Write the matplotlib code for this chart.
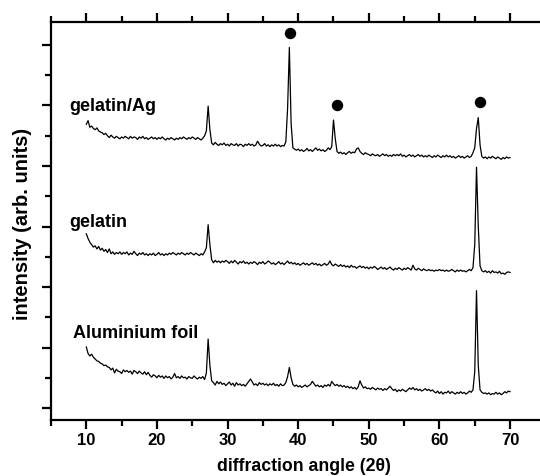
import numpy as np
import matplotlib
matplotlib.use("Agg")
import matplotlib.pyplot as plt
from matplotlib.ticker import FixedLocator

plt.rcParams['font.family'] = ['Liberation Sans', 'DejaVu Sans']
plt.rcParams['font.weight'] = 'bold'

# diffraction angle grid (2theta, degrees)
two_theta = np.arange(10.0, 70.001, 0.25)

aluminium = [
    1.01, 0.90, 0.86, 0.89,  0.84, 0.81, 0.78, 0.77,  0.74, 0.73, 0.70, 0.71,
    0.68, 0.67, 0.63, 0.66,  0.58, 0.64, 0.61, 0.60,  0.57, 0.63, 0.60, 0.62,
    0.59, 0.61, 0.56, 0.62,  0.60, 0.57, 0.61, 0.58,  0.56, 0.60, 0.55, 0.59,
    0.54, 0.51, 0.55, 0.53,  0.50, 0.54, 0.51, 0.53,  0.49, 0.53, 0.50, 0.52,
    0.48, 0.51, 0.57, 0.50,  0.52, 0.49, 0.53, 0.50,  0.51, 0.48, 0.52, 0.50,
    0.49, 0.53, 0.50, 0.48,  0.51, 0.49, 0.52, 0.47,  0.58, 1.14, 0.70, 0.45,
    0.42, 0.38, 0.44, 0.40,  0.43, 0.39, 0.41, 0.37,  0.40, 0.43, 0.38, 0.41,
    0.36, 0.42, 0.38, 0.40,  0.37, 0.39, 0.36, 0.40,  0.44, 0.48, 0.43, 0.38,
    0.40, 0.37, 0.42, 0.39,  0.41, 0.38, 0.40, 0.37,  0.40, 0.38, 0.41, 0.37,
    0.39, 0.36, 0.40, 0.37,  0.38, 0.42, 0.52, 0.67,  0.50, 0.39, 0.36, 0.38,
    0.35, 0.37, 0.34, 0.36,  0.38, 0.35, 0.37, 0.39,  0.44, 0.40, 0.36, 0.38,
    0.35, 0.37, 0.34, 0.38,  0.36, 0.39, 0.36, 0.44,  0.40, 0.37, 0.39, 0.36,
    0.38, 0.35, 0.37, 0.34,  0.36, 0.33, 0.35, 0.32,  0.34, 0.31, 0.35, 0.45,
    0.38, 0.33, 0.35, 0.32,  0.33, 0.31, 0.34, 0.32,  0.30, 0.33, 0.31, 0.32,
    0.29, 0.32, 0.30, 0.33,  0.36, 0.32, 0.29, 0.31,  0.27, 0.30, 0.28, 0.31,
    0.29, 0.27, 0.30, 0.33,  0.31, 0.34, 0.30, 0.32,  0.29, 0.31, 0.28, 0.30,
    0.32, 0.29, 0.31, 0.28,  0.30, 0.27, 0.25, 0.28,  0.24, 0.27, 0.23, 0.26,
    0.25, 0.28, 0.24, 0.27,  0.25, 0.23, 0.26, 0.24,  0.27, 0.24, 0.26, 0.23,
    0.25, 0.28, 0.26, 0.30,  0.60, 1.94, 0.70, 0.30,  0.26, 0.24, 0.25, 0.23,
    0.25, 0.22, 0.24, 0.23,  0.26, 0.23, 0.25, 0.22,  0.24, 0.27, 0.25, 0.28,
    0.27,
]

gelatin = [
    2.88, 2.80, 2.74, 2.70,  2.66, 2.68, 2.63, 2.67,  2.61, 2.64, 2.59, 2.62,
    2.57, 2.63, 2.55, 2.58,  2.54, 2.57, 2.55, 2.58,  2.54, 2.57, 2.55, 2.58,
    2.53, 2.56, 2.54, 2.59,  2.55, 2.52, 2.56, 2.54,  2.57, 2.53, 2.55, 2.52,
    2.55, 2.53, 2.56, 2.52,  2.54, 2.57, 2.53, 2.55,  2.52, 2.55, 2.53, 2.56,
    2.54, 2.57, 2.55, 2.53,  2.56, 2.54, 2.57, 2.55,  2.53, 2.56, 2.54, 2.57,
    2.55, 2.53, 2.56, 2.54,  2.52, 2.55, 2.53, 2.58,  2.65, 3.03, 2.70, 2.45,
    2.40, 2.44, 2.41, 2.43,  2.40, 2.43, 2.41, 2.44,  2.42, 2.39, 2.43, 2.40,
    2.44, 2.41, 2.38, 2.42,  2.40, 2.43, 2.39, 2.41,  2.38, 2.41, 2.39, 2.42,
    2.40, 2.37, 2.41, 2.39,  2.42, 2.38, 2.40, 2.43,  2.41, 2.38, 2.40, 2.37,
    2.39, 2.42, 2.38, 2.40,  2.37, 2.40, 2.43, 2.39,  2.41, 2.38, 2.40, 2.37,
    2.39, 2.36, 2.38, 2.40,  2.37, 2.39, 2.36, 2.38,  2.40, 2.37, 2.39, 2.36,
    2.38, 2.35, 2.37, 2.39,  2.36, 2.38, 2.43, 2.37,  2.35, 2.38, 2.36, 2.34,
    2.37, 2.34, 2.36, 2.33,  2.35, 2.32, 2.36, 2.33,  2.34, 2.31, 2.33, 2.35,
    2.32, 2.34, 2.31, 2.33,  2.30, 2.33, 2.31, 2.34,  2.32, 2.29, 2.31, 2.33,
    2.30, 2.32, 2.29, 2.31,  2.33, 2.30, 2.28, 2.31,  2.29, 2.32, 2.30, 2.28,
    2.31, 2.29, 2.32, 2.30,  2.28, 2.36, 2.30, 2.28,  2.31, 2.29, 2.27, 2.30,
    2.28, 2.27, 2.29, 2.27,  2.28, 2.26, 2.28, 2.27,  2.29, 2.27, 2.28, 2.26,
    2.28, 2.26, 2.27, 2.29,  2.27, 2.25, 2.28, 2.26,  2.28, 2.26, 2.27, 2.25,
    2.27, 2.29, 2.27, 2.32,  2.70, 3.98, 3.00, 2.35,  2.27, 2.25, 2.27, 2.24,
    2.26, 2.23, 2.27, 2.24,  2.25, 2.23, 2.26, 2.22,  2.23, 2.21, 2.24, 2.25,
    2.24,
]

gelatin_ag = [
    4.69, 4.75, 4.64, 4.66,  4.62, 4.60, 4.63, 4.58,  4.56, 4.55, 4.52, 4.54,
    4.50, 4.47, 4.51, 4.48,  4.46, 4.49, 4.47, 4.45,  4.48, 4.46, 4.49, 4.47,
    4.45, 4.49, 4.46, 4.48,  4.47, 4.44, 4.48, 4.46,  4.49, 4.45, 4.47, 4.44,
    4.46, 4.48, 4.45, 4.47,  4.44, 4.47, 4.45, 4.48,  4.45, 4.43, 4.46, 4.44,
    4.47, 4.45, 4.43, 4.46,  4.44, 4.47, 4.45, 4.48,  4.46, 4.44, 4.47, 4.45,
    4.48, 4.46, 4.44, 4.47,  4.45, 4.43, 4.46, 4.50,  4.58, 4.99, 4.60, 4.38,
    4.35, 4.39, 4.36, 4.34,  4.37, 4.35, 4.38, 4.34,  4.36, 4.33, 4.37, 4.35,
    4.34, 4.37, 4.33, 4.36,  4.35, 4.32, 4.36, 4.34,  4.37, 4.34, 4.36, 4.33,
    4.35, 4.41, 4.36, 4.33,  4.34, 4.37, 4.33, 4.35,  4.32, 4.35, 4.33, 4.36,
    4.33, 4.35, 4.32, 4.34,  4.33, 4.40, 4.95, 5.96,  4.70, 4.30, 4.28, 4.26,
    4.28, 4.25, 4.27, 4.24,  4.26, 4.29, 4.25, 4.27,  4.24, 4.27, 4.30, 4.26,
    4.28, 4.25, 4.27, 4.24,  4.26, 4.30, 4.27, 4.32,  4.76, 4.45, 4.24, 4.21,
    4.23, 4.20, 4.22, 4.19,  4.22, 4.24, 4.21, 4.23,  4.22, 4.28, 4.30, 4.24,
    4.21, 4.19, 4.22, 4.20,  4.19, 4.17, 4.20, 4.18,  4.17, 4.19, 4.16, 4.18,
    4.20, 4.17, 4.19, 4.16,  4.18, 4.16, 4.19, 4.17,  4.19, 4.17, 4.20, 4.16,
    4.18, 4.15, 4.17, 4.19,  4.16, 4.18, 4.15, 4.17,  4.19, 4.16, 4.18, 4.15,
    4.17, 4.15, 4.18, 4.16,  4.14, 4.17, 4.15, 4.18,  4.16, 4.14, 4.17, 4.15,
    4.18, 4.15, 4.17, 4.14,  4.16, 4.13, 4.15, 4.17,  4.14, 4.16, 4.13, 4.15,
    4.17, 4.14, 4.16, 4.22,  4.30, 4.62, 4.80, 4.35,  4.16, 4.13, 4.15, 4.12,
    4.15, 4.13, 4.16, 4.14,  4.12, 4.15, 4.13, 4.11,  4.14, 4.12, 4.15, 4.13,
    4.14,
]

# silver reflection markers
ag_peak_x = [38.9, 45.5, 65.7]
ag_peak_y = [6.20, 5.00, 5.05]

labels = ["gelatin/Ag", "gelatin", "Aluminium foil"]
label_x = [7.6, 7.6, 8.15]
label_y = [4.98, 3.07, 1.23]

x_major = [10, 20, 30, 40, 50, 60, 70]
x_minor = [5, 15, 25, 35, 45, 55, 65]
y_major = [0, 1, 2, 3, 4, 5, 6]
y_minor = [0.5, 1.5, 2.5, 3.5, 4.5, 5.5]

W, H = 540, 476
fig = plt.figure(figsize=(W / 100, H / 100), dpi=100)
ax = fig.add_axes([51 / W, 1 - 420 / H, 1 - 51 / W, (420 - 21.7) / H])

for series in (aluminium, gelatin, gelatin_ag):
    ax.plot(two_theta, series, color='black', lw=0.9)

ax.plot(ag_peak_x, ag_peak_y, 'o', color='black', markersize=7.2)

for t, tx, ty in zip(labels, label_x, label_y):
    ax.text(tx, ty, t, fontsize=13, fontweight='bold', ha='left', va='center')

ax.set_xlim(5, 74.24)
ax.set_ylim(-0.198, 6.385)
ax.spines['right'].set_visible(False)
for s in ('left', 'top', 'bottom'):
    ax.spines[s].set_linewidth(1.6)

ax.xaxis.set_major_locator(FixedLocator(x_major))
ax.xaxis.set_minor_locator(FixedLocator(x_minor))
ax.yaxis.set_major_locator(FixedLocator(y_major))
ax.yaxis.set_minor_locator(FixedLocator(y_minor))
ax.tick_params(which='both', direction='out', top=True, right=False, width=1.6)
ax.tick_params(which='major', length=6.5)
ax.tick_params(which='minor', length=4)
ax.tick_params(axis='y', labelleft=False)
ax.tick_params(axis='x', labeltop=False, labelsize=12, pad=3)
for lab in ax.get_xticklabels():
    lab.set_fontweight('bold')

ax.set_xlabel("diffraction angle (2θ)", fontsize=12.7, fontweight='bold')
ax.xaxis.set_label_coords((304 - 51) / 489, (420 - 458) / 398.3)
ax.set_ylabel("intensity (arb. units)", fontsize=14.5, fontweight='bold')
ax.yaxis.set_label_coords((32 - 51) / 489, (420 - 224) / 398.3)

fig.savefig("out.png", dpi=100)
